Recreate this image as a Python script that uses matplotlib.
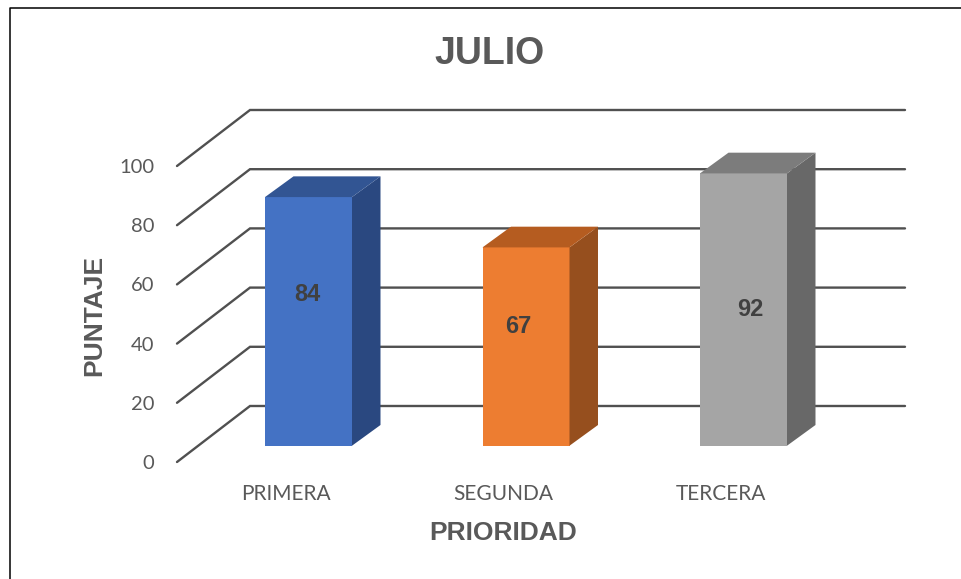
import matplotlib
matplotlib.use('Agg')
import matplotlib.pyplot as plt
from matplotlib.lines import Line2D
from matplotlib.patches import Polygon

# data
categories = ['PRIMERA', 'SEGUNDA', 'TERCERA']
values = [84, 67, 92]
yticks = [0, 20, 40, 60, 80, 100]

front_colors = ['#4472C4', '#ED7D31', '#A5A5A5']
side_colors = ['#2A4880', '#964F1E', '#686868']
top_colors = ['#325593', '#B55C20', '#7C7C7C']

# fake 3d geometry, in axis units
wall_dx = 0.3356
wall_dy = 18.92
bar_width = 0.4
bar_dx = 0.131
bar_dy = 7.0
bar_floor = 5.5
label_shift_x = [-0.007, -0.034, 0.03]
label_shift_y = [9.2, 6.7, 0.0]
cat_shift = -0.106

W, H = 961, 579
fig = plt.figure(figsize=(W / 100, H / 100), dpi=100)
ax = fig.add_axes([177 / W, 1 - 462 / H, 728 / W, 352 / H])
ax.set_xlim((177 - 308.5) / 217.5, (905 - 308.5) / 217.5)
ax.set_ylim(0, 352 / 2.96)
for s in ax.spines.values():
    s.set_visible(False)

# grid: slanted floor part + back wall part
x0 = ax.get_xlim()[0]
x1 = ax.get_xlim()[1]
for t in yticks:
    ax.plot([x0, x0 + wall_dx, x1], [t, t + wall_dy, t + wall_dy],
            color='#505050', lw=1.7, zorder=1, clip_on=False,
            solid_capstyle='round', solid_joinstyle='miter')

for i, v in enumerate(values):
    l = i - bar_width / 2
    r = i + bar_width / 2
    b = bar_floor
    t = bar_floor + v
    ax.add_patch(Polygon([(l, b), (r, b), (r, t), (l, t)],
                         facecolor=front_colors[i], edgecolor='none', zorder=3))
    ax.add_patch(Polygon([(r, b), (r + bar_dx, b + bar_dy), (r + bar_dx, t + bar_dy), (r, t)],
                         facecolor=side_colors[i], edgecolor='none', zorder=3))
    ax.add_patch(Polygon([(l, t), (r, t), (r + bar_dx, t + bar_dy), (l + bar_dx, t + bar_dy)],
                         facecolor=top_colors[i], edgecolor='none', zorder=3))
    ax.text(i + label_shift_x[i], bar_floor + v / 2 + label_shift_y[i], str(v),
            ha='center', va='center', fontsize=17, fontweight='bold',
            family='Liberation Sans', color='#404040', zorder=4)

ax.set_yticks(yticks)
ax.set_xticks([i + cat_shift for i in range(len(categories))])
ax.set_xticklabels(categories)
ax.tick_params(axis='y', length=0, pad=16.5, labelsize=14.5, labelcolor='#595959')
ax.tick_params(axis='x', length=0, pad=16, labelsize=15, labelcolor='#595959')
for lab in ax.get_xticklabels() + ax.get_yticklabels():
    lab.set_family('Lato')

ax.set_title('JULIO', x=(490 - 177) / 728, y=(462 - 54) / 352, va='center', pad=0,
             fontsize=27, fontweight='bold', family='Liberation Sans', color='#595959')
ax.set_xlabel('PRIORIDAD', fontsize=19, fontweight='bold', family='Liberation Sans',
              color='#595959', va='center')
ax.xaxis.set_label_coords((503 - 177) / 728, (462 - 533) / 352)
ax.set_ylabel('PUNTAJE', fontsize=19, fontweight='bold', family='Liberation Sans',
              color='#595959', va='center')
ax.yaxis.set_label_coords((94 - 177) / 728, (462 - 315) / 352)

# black frame, only top and left show
fig.add_artist(Line2D([10 / W, 10 / W, 1], [0, 1 - 7.5 / H, 1 - 7.5 / H],
                      color='black', lw=1.1))

fig.savefig('out.png', dpi=100)
